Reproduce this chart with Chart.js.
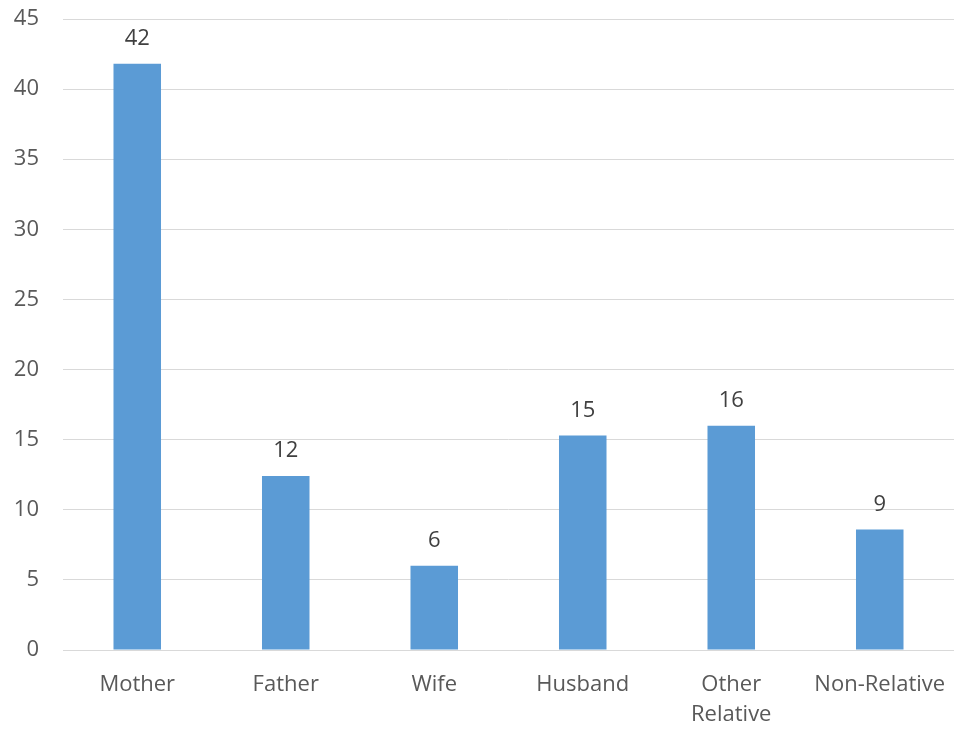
<!DOCTYPE html>
<html>
<head>
<meta charset="utf-8">
<script src="https://cdn.jsdelivr.net/npm/chart.js@4"></script>
<style>
html,body{margin:0;padding:0;background:#fff;}
#wrap{width:954px;height:730px;}
</style>
</head>
<body>
<div id="wrap"><canvas id="c" width="954" height="730"></canvas></div>
<script>
const categories = [['Mother'], ['Father'], ['Wife'], ['Husband'], ['Other', 'Relative'], ['Non-Relative']];
const values = [41.8, 12.4, 6.0, 15.3, 16.0, 8.6];
const yTicks = [0, 5, 10, 15, 20, 25, 30, 35, 40, 45];

const FONT = "'Open Sans', 'Noto Sans', sans-serif";

const labelPlugin = {
  id: 'barLabels',
  afterDatasetsDraw(chart) {
    const ctx = chart.ctx;
    const meta = chart.getDatasetMeta(0);
    ctx.save();
    ctx.font = '22px ' + FONT;
    ctx.fillStyle = '#404040';
    ctx.textAlign = 'center';
    ctx.textBaseline = 'middle';
    meta.data.forEach((bar, i) => {
      ctx.fillText(String(Math.round(values[i])), bar.x, bar.y - 25);
    });
    ctx.restore();
  }
};

new Chart(document.getElementById('c'), {
  type: 'bar',
  data: {
    labels: categories,
    datasets: [{
      data: values,
      backgroundColor: '#5B9BD5',
      borderWidth: 0,
      barPercentage: 0.32,
      categoryPercentage: 1.0
    }]
  },
  options: {
    responsive: false,
    animation: false,
    events: [],
    layout: { padding: { top: 19, right: 0, left: 0, bottom: 0 } },
    plugins: { legend: { display: false }, tooltip: { enabled: false } },
    scales: {
      x: {
        grid: { display: false, drawTicks: false },
        border: { display: true, color: '#d9d9d9', width: 1 },
        ticks: { color: '#595959', font: { family: FONT, size: 22, lineHeight: 1.4 }, padding: 19, maxRotation: 0, autoSkip: false },
        afterFit(scale) { scale.height = 80; scale.paddingLeft = 0; scale.paddingRight = 0; }
      },
      y: {
        min: 0, max: 45,
        afterBuildTicks(scale) { scale.ticks = yTicks.map(v => ({ value: v })); },
        grid: { color: '#d9d9d9', lineWidth: 1, drawTicks: false },
        border: { display: false },
        ticks: { color: '#595959', font: { family: FONT, size: 22 }, padding: 24 },
        afterFit(scale) { scale.width = 63; scale.paddingTop = 0; scale.paddingBottom = 0; }
      }
    }
  },
  plugins: [labelPlugin]
});
</script>
</body>
</html>
